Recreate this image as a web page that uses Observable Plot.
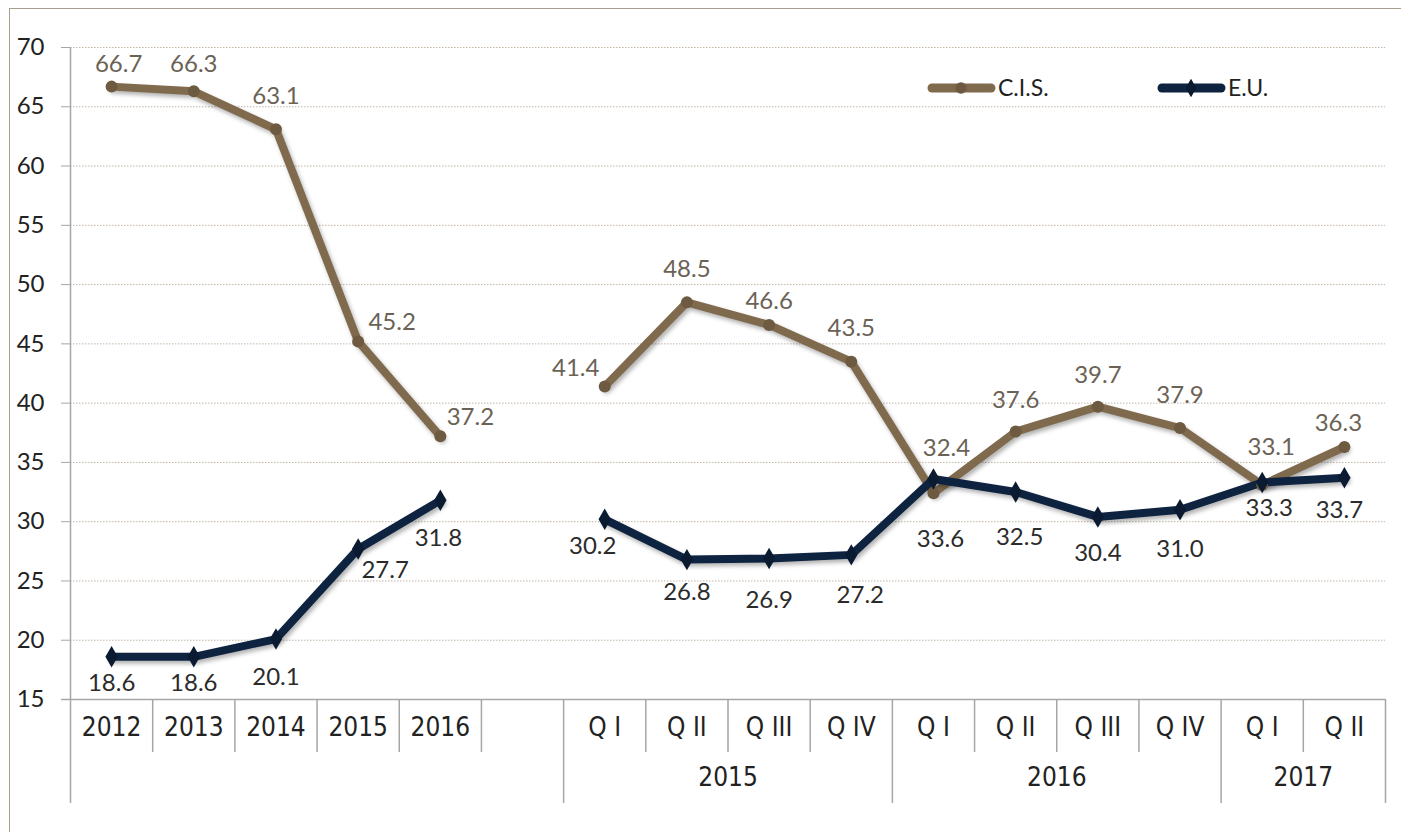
<!DOCTYPE html>
<html>
<head>
<meta charset="utf-8">
<script src="https://cdn.jsdelivr.net/npm/d3@7"></script>
<script src="https://cdn.jsdelivr.net/npm/@observablehq/plot@0.6"></script>
<style>
  body { margin: 0; background: #fff; }
  #wrap { position: relative; width: 1401px; height: 832px; overflow: hidden; background: #fff; }
  #frame { position: absolute; left: 9px; top: 8px; width: 1500px; height: 900px; border: 1.5px solid #ab9d8f; box-sizing: border-box; }
  #chart { position: absolute; left: 0; top: 0; }
  #chart svg g[aria-label="line"] path { filter: drop-shadow(2px 3px 2px rgba(0,0,0,0.30)); }
  #legend { position: absolute; left: 0; top: 0; }
</style>
</head>
<body>
<div id="wrap">
  <div id="frame"></div>
  <div id="chart"></div>
  <svg id="legend" width="1401" height="140"></svg>
</div>
<script>
// ---------- data ----------
const categories = ["2012", "2013", "2014", "2015", "2016", "", "Q I", "Q II", "Q III", "Q IV", "Q I", "Q II", "Q III", "Q IV", "Q I", "Q II"];
const cisValues = [66.7, 66.3, 63.1, 45.2, 37.2, null, 41.4, 48.5, 46.6, 43.5, 32.4, 37.6, 39.7, 37.9, 33.1, 36.3];
const euValues  = [18.6, 18.6, 20.1, 27.7, 31.8, null, 30.2, 26.8, 26.9, 27.2, 33.6, 32.5, 30.4, 31.0, 33.3, 33.7];
const groupLabels = ["", "2015", "2016", "2017"];
const groupStarts = [0, 6, 10, 14];
const groupEnds   = [6, 10, 14, 16];
const yTicks = [15, 20, 25, 30, 35, 40, 45, 50, 55, 60, 65, 70];
const seriesNames = ["C.I.S.", "E.U."];

// ---------- layout (label placement, px) ----------
const cisLabelShift = {0:[7,-22],1:[0,-27],2:[0,-33],3:[34,-19],4:[30,-19],6:[-29,-18],7:[0,-33],8:[0,-24],9:[0,-33],10:[13,-45],11:[0,-31],12:[0,-31],13:[0,-33],14:[9,-38],15:[-6,-24]};
const euLabelShift  = {0:[0,26],1:[0,26],2:[0,38],3:[27,21],4:[-2,38],6:[-12,27],7:[0,33],8:[0,42],9:[9,40],10:[7,60],11:[4,45],12:[0,36],13:[0,39],14:[7,26],15:[-5,32]};

const CIS = "#806a4e", CIS_DOT = "#6e5a40", EU = "#0d2340", EU_DOT = "#0a1a30";
const CIS_TXT = "#6b6256", EU_TXT = "#2b2b2b";

function hasFont(name) {
  const c = document.createElement("canvas").getContext("2d");
  c.font = "40px monospace"; const a = c.measureText("2012 Q III abc").width;
  c.font = `40px '${name}', monospace`; const b = c.measureText("2012 Q III abc").width;
  return Math.abs(a - b) > 0.5;
}
const narrow = hasFont("Liberation Sans Narrow") ? "'Liberation Sans Narrow'" : (hasFont("DejaVu Sans Condensed") ? "'DejaVu Sans Condensed'" : "Roboto");
const regular = "Lato, 'Open Sans', sans-serif";

const rows = categories.map((c, i) => ({i, cat: c, cis: cisValues[i], eu: euValues[i]}));
const groups = groupLabels.map((g, k) => ({label: g, start: groupStarts[k], end: groupEnds[k]}));
const N = categories.length;

const W = 1401, H = 832, mT = 47, mB = 133, mL = 70, mR = 16;
const innerH = H - mT - mB;

const longIdx = [0, ...groupStarts.slice(1), N];
const shortIdx = d3.range(1, N).filter(i => !longIdx.includes(i));

const labelMarks = [];
rows.forEach(r => {
  if (r.cis != null) {
    const [dx, dy] = cisLabelShift[r.i] || [0, -30];
    labelMarks.push(Plot.text([r], {x: d => d.i + 0.5, y: "cis", text: d => d.cis.toFixed(1), dx, dy, fill: CIS_TXT, fontSize: 24, fontFamily: regular}));
  }
  if (r.eu != null) {
    const [dx, dy] = euLabelShift[r.i] || [0, 35];
    labelMarks.push(Plot.text([r], {x: d => d.i + 0.5, y: "eu", text: d => d.eu.toFixed(1), dx, dy, fill: EU_TXT, fontSize: 24, fontFamily: regular}));
  }
});

const plot = Plot.plot({
  width: W, height: H,
  marginTop: mT, marginBottom: mB, marginLeft: mL, marginRight: mR,
  x: {type: "linear", domain: [0, N], axis: null},
  y: {type: "linear", domain: [15, 70], axis: null},
  style: {background: "transparent", overflow: "visible"},
  marks: [
    Plot.ruleY(yTicks.filter(v => v > 15), {stroke: "#c2b5a7", strokeWidth: 1, strokeDasharray: "1.5,1.5"}),
    Plot.axisY({ticks: yTicks, tickSize: 9, tickPadding: 17, stroke: "#a6a6a6", fill: "#222", fontSize: 24, fontFamily: regular, tickFormat: d => d}),
    Plot.ruleY([15], {stroke: "#a6a6a6", strokeWidth: 1.5, insetLeft: -9}),
    Plot.ruleX([0], {stroke: "#a6a6a6", strokeWidth: 1.5, insetBottom: -104}),
    Plot.ruleX(shortIdx, {stroke: "#a6a6a6", strokeWidth: 1.5, insetTop: innerH, insetBottom: -53}),
    Plot.ruleX(longIdx.slice(1), {stroke: "#a6a6a6", strokeWidth: 1.5, insetTop: innerH, insetBottom: -104}),
    Plot.text(rows, {x: d => d.i + 0.5, text: "cat", frameAnchor: "bottom", dy: 36, fontSize: 26, fontFamily: narrow, fill: "#222"}),
    Plot.text(groups, {x: d => (d.start + d.end) / 2, text: "label", frameAnchor: "bottom", dy: 86, fontSize: 26, fontFamily: narrow, fill: "#222"}),
    Plot.line(rows, {x: d => d.i + 0.5, y: "cis", stroke: CIS, strokeWidth: 8, strokeLinejoin: "round", strokeLinecap: "round"}),
    Plot.line(rows, {x: d => d.i + 0.5, y: "eu", stroke: EU, strokeWidth: 8, strokeLinejoin: "round", strokeLinecap: "round"}),
    Plot.dot(rows.filter(d => d.cis != null), {x: d => d.i + 0.5, y: "cis", r: 6, fill: CIS_DOT, symbol: "circle"}),
    Plot.dot(rows.filter(d => d.eu != null), {x: d => d.i + 0.5, y: "eu", r: 6.5, fill: EU_DOT, symbol: "diamond"}),
    ...labelMarks
  ]
});
document.getElementById("chart").appendChild(plot);

// legend
const lg = d3.select("#legend");
const items = [
  {name: seriesNames[0], color: CIS, dot: CIS_DOT, x: 928, sym: d3.symbolCircle},
  {name: seriesNames[1], color: EU, dot: EU_DOT, x: 1158, sym: d3.symbolDiamond}
];
items.forEach(it => {
  const g = lg.append("g");
  g.append("line").attr("x1", it.x + 4).attr("x2", it.x + 63).attr("y1", 88).attr("y2", 88)
    .attr("stroke", it.color).attr("stroke-width", 9).attr("stroke-linecap", "round");
  g.append("path").attr("d", d3.symbol(it.sym, 100)()).attr("transform", `translate(${it.x + 33},88)`).attr("fill", it.dot);
  g.append("text").attr("x", it.x + 70).attr("y", 88).attr("dy", "0.36em").attr("font-family", regular)
    .attr("font-size", 23).attr("fill", "#222").text(it.name);
});
</script>
</body>
</html>
